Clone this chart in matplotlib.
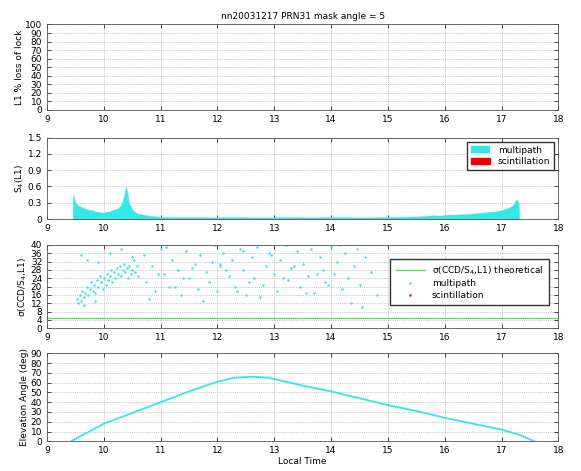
import matplotlib
matplotlib.use("Agg")
import matplotlib.pyplot as plt

title = "nn20031217 PRN31 mask angle = 5"
xticks = [9, 10, 11, 12, 13, 14, 15, 16, 17, 18]

# Panel 2: S4 (multipath)
s4_time = [9.45, 9.46, 9.48, 9.5, 9.55, 9.6, 9.65, 9.7, 9.75, 9.8, 9.85, 9.9, 9.95, 10.0, 10.05,
           10.1, 10.15, 10.2, 10.25, 10.3, 10.33, 10.36, 10.39, 10.41, 10.44, 10.5, 10.55, 10.6,
           10.7, 10.8, 10.9, 11.0, 11.2, 11.4, 11.6, 11.8, 12.0, 12.3, 12.6, 12.9, 13.2, 13.5,
           13.8, 14.1, 14.4, 14.7, 15.0, 15.3, 15.6, 15.7, 15.8, 15.9, 16.0, 16.1, 16.2, 16.3,
           16.4, 16.5, 16.6, 16.7, 16.8, 16.9, 17.0, 17.05, 17.1, 17.15, 17.2, 17.24, 17.27,
           17.3, 17.31]
s4_val = [0.0, 0.45, 0.38, 0.3, 0.25, 0.22, 0.2, 0.18, 0.17, 0.16, 0.14, 0.13, 0.12, 0.12, 0.13,
          0.14, 0.16, 0.18, 0.2, 0.25, 0.33, 0.45, 0.6, 0.5, 0.3, 0.17, 0.13, 0.1,
          0.08, 0.06, 0.05, 0.04, 0.035, 0.03, 0.035, 0.03, 0.03, 0.035, 0.03, 0.03, 0.035, 0.03,
          0.03, 0.035, 0.03, 0.03, 0.035, 0.04, 0.05, 0.06, 0.07, 0.06, 0.07, 0.08, 0.08, 0.09,
          0.09, 0.1, 0.11, 0.12, 0.13, 0.14, 0.16, 0.18, 0.2, 0.22, 0.25, 0.33, 0.36,
          0.3, 0.0]

# Panel 3: sigma(CCD) multipath points
mp_time = [9.52, 9.55, 9.58, 9.6, 9.62, 9.65, 9.67, 9.7, 9.72, 9.75, 9.77, 9.8, 9.82, 9.85,
           9.88, 9.9, 9.93, 9.95, 9.98, 10.0, 10.03, 10.05, 10.08, 10.1, 10.13, 10.15, 10.18,
           10.2, 10.23, 10.25, 10.28, 10.3, 10.33, 10.35, 10.38, 10.4, 10.43, 10.45, 10.48,
           10.5, 10.53, 10.55, 10.58, 10.6, 9.6, 9.7, 9.9, 10.1, 10.3, 10.5, 9.65, 9.85,
           10.7, 10.75, 10.85, 10.9, 11.0, 11.05, 11.15, 11.2, 11.3, 11.35, 11.45, 11.5, 11.6,
           11.65, 11.7, 11.8, 11.85, 11.95, 12.0, 12.05, 12.1, 12.2, 12.25, 12.3, 12.4, 12.45,
           12.5, 12.6, 12.65, 12.7, 12.8, 12.85, 12.9, 13.0, 13.05, 13.1, 13.2, 13.25, 13.3,
           13.4, 13.45, 13.5, 13.6, 13.65, 13.7, 13.8, 13.85, 13.9, 14.0, 14.05, 14.1, 14.2,
           14.25, 14.3, 14.4, 14.45, 14.5, 14.6, 14.7, 14.8, 11.1, 11.4, 11.9, 12.15, 12.55,
           12.95, 13.35, 13.75, 14.15, 14.35, 10.8, 11.25, 11.75, 12.35, 12.75, 13.15, 13.55,
           13.95, 14.55, 10.95, 11.55, 12.05, 12.45]
mp_val = [14, 12, 16, 13, 18, 15, 17, 20, 16, 19, 22, 18, 21, 17, 23, 20, 25, 22, 19, 24, 21,
          26, 23, 25, 28, 22, 27, 24, 29, 26, 30, 25, 28, 31, 27, 29, 24, 30, 26, 28, 33, 27,
          30, 25, 35, 33, 32, 36, 38, 34, 11, 13,
          35, 22, 30, 18, 38, 26, 20, 33, 28, 16, 37, 24, 31, 19, 35, 27, 22, 40, 18, 30, 36,
          25, 33, 20, 38, 28, 16, 34, 24, 39, 21, 30, 36, 26, 18, 33, 40, 23, 29, 37, 20, 31,
          25, 38, 17, 34, 28, 22, 39, 26, 32, 19, 36, 24, 30, 38, 21, 34, 27, 16, 39, 24, 32,
          28, 22, 35, 30, 26, 40, 12, 14, 20, 13, 18, 15, 24, 17, 21, 10, 26, 29, 31, 37]
sigma_theory = 5.0

# Panel 4: elevation angle
el_time = [9.42, 10.0, 10.5, 11.0, 11.5, 12.0, 12.3, 12.6, 12.9, 13.2, 13.5, 14.0, 14.5,
           15.0, 15.5, 16.0, 16.5, 17.0, 17.3, 17.58]
el_val = [0, 18, 29, 40, 51, 61, 65, 66, 65, 61, 57, 51, 44, 37, 31, 24, 18, 12, 7, 0]

cyan = "#33e8e8"
green = "#66dd66"
fs = 6.5

fig = plt.figure(figsize=(5.81, 4.71), dpi=100)
L, W = 0.081, 0.880
axes = [fig.add_axes([L, 0.767, W, 0.181]),
        fig.add_axes([L, 0.535, W, 0.173]),
        fig.add_axes([L, 0.303, W, 0.177]),
        fig.add_axes([L, 0.063, W, 0.187])]

for ax in axes:
    ax.set_xlim(9, 18)
    ax.set_xticks(xticks)
    ax.grid(True, linestyle=":", color="#999999", linewidth=0.5)
    ax.tick_params(direction="in", labelsize=fs, length=3, width=0.5, top=True, right=True)
    for s in ax.spines.values():
        s.set_linewidth(0.6)
        s.set_color("#555555")
    ax.set_axisbelow(True)

ax1, ax2, ax3, ax4 = axes
ax1.set_ylim(0, 100)
ax1.set_yticks(range(0, 101, 10))
ax1.set_ylabel("L1 % loss of lock", fontsize=fs, labelpad=1)
ax1.set_title(title, fontsize=fs, pad=4)

ax2.fill_between(s4_time, 0, s4_val, color=cyan, linewidth=0.3, label="multipath")
ax2.fill_between([], [], [], color="#ee0000", label="scintillation")
ax2.set_ylim(0, 1.5)
ax2.set_yticks([0, 0.3, 0.6, 0.9, 1.2, 1.5])
ax2.set_yticklabels(["0", "0.3", "0.6", "0.9", "1.2", "1.5"])
ax2.set_ylabel("S$_4$(L1)", fontsize=fs, labelpad=1)
ax2.legend(loc="upper right", fontsize=fs, fancybox=False, edgecolor="#333333",
           framealpha=1, handlelength=2.2, borderpad=0.4, labelspacing=0.3)

ax3.axhline(sigma_theory, color=green, linewidth=1.0, label="σ(CCD/S$_4$,L1) theoretical")
ax3.plot(mp_time, mp_val, ".", color=cyan, markersize=1.6, label="multipath")
ax3.plot([], [], ".", color="#ee0000", markersize=1.6, label="scintillation")
ax3.set_ylim(0, 40)
ax3.set_yticks(range(0, 41, 4))
ax3.set_ylabel("σ(CCD/S$_4$,L1)", fontsize=fs, labelpad=1)
ax3.legend(loc="upper right", fontsize=fs, fancybox=False, edgecolor="#333333",
           framealpha=1, handlelength=3.2, borderpad=0.6, labelspacing=0.3,
           bbox_to_anchor=(0.99, 0.89))

ax4.plot(el_time, el_val, color=cyan, linewidth=1.3)
ax4.set_ylim(0, 90)
ax4.set_yticks(range(0, 91, 10))
ax4.set_ylabel("Elevation Angle (deg)", fontsize=fs, labelpad=1)
ax4.set_xlabel("Local Time", fontsize=fs, labelpad=1)

fig.savefig("out.png", dpi=100)
